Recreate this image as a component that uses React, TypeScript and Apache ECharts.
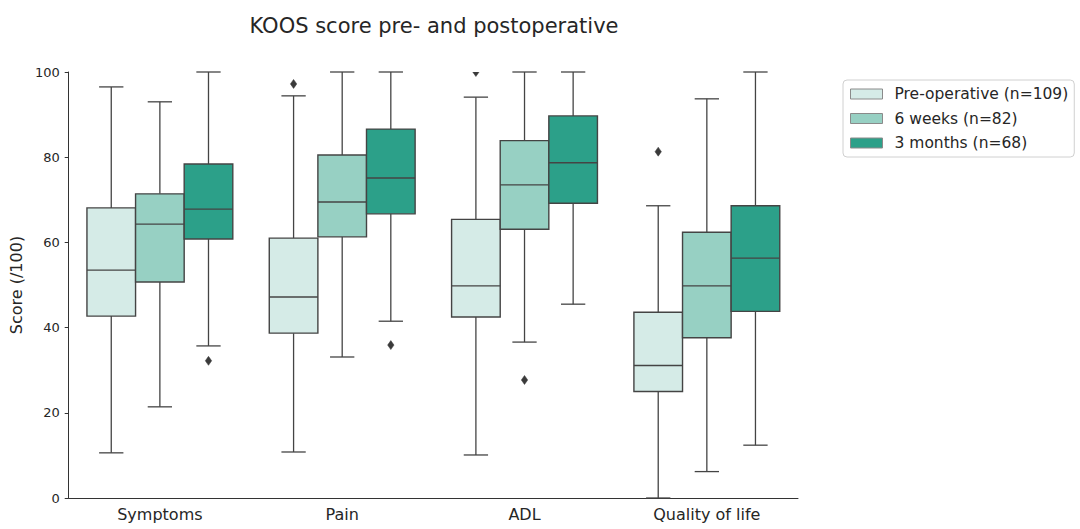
import React, { useEffect, useRef } from "react";
import * as echarts from "echarts";

const categories = ["Symptoms", "Pain", "ADL", "Quality of life"];
const groups = ["Pre-operative (n=109)", "6 weeks (n=82)", "3 months (n=68)"];
const colors = ["#d5ebe7", "#97d0c3", "#2ca089"];
const yTicks = [0, 20, 40, 60, 80, 100];

// [min, q1, median, q3, max] per category
const preOperative = [
  [10.6, 42.7, 53.5, 68.1, 96.5],
  [10.8, 38.7, 47.2, 61.0, 94.4],
  [10.1, 42.5, 49.8, 65.4, 94.1],
  [0, 25.0, 31.1, 43.6, 68.6],
];
const sixWeeks = [
  [21.4, 50.7, 64.3, 71.4, 93.0],
  [33.1, 61.3, 69.5, 80.5, 100],
  [36.6, 63.1, 73.5, 83.9, 100],
  [6.2, 37.6, 49.8, 62.4, 93.7],
];
const threeMonths = [
  [35.7, 60.8, 67.8, 78.4, 100],
  [41.5, 66.7, 75.1, 86.6, 100],
  [45.5, 69.2, 78.7, 89.7, 100],
  [12.4, 43.8, 56.3, 68.6, 100],
];
// [categoryIndex, groupIndex, value]
const outliers = [
  [0, 2, 32.2],
  [1, 0, 97.2],
  [1, 2, 35.9],
  [2, 0, 100],
  [2, 1, 27.7],
  [3, 0, 81.3],
];

const groupData = [preOperative, sixWeeks, threeMonths];
const EDGE = "#444444";
const FONT = "DejaVu Sans";

export default function App() {
  const ref = useRef<HTMLDivElement>(null);
  useEffect(() => {
    if (!ref.current) return;
    const chart = echarts.init(ref.current, undefined, { renderer: "svg" });

    const makeRender = (g: number) => (params: any, api: any) => {
      const ci = api.value(0);
      const mn = api.value(1), q1 = api.value(2), md = api.value(3), q3 = api.value(4), mx = api.value(5);
      const band = api.size([1, 0])[0];
      const w = (band * 0.8) / 3;
      const cx = api.coord([ci, md])[0] + (g - 1) * w;
      const y = (v: number) => api.coord([ci, v])[1];
      const ls = { stroke: EDGE, lineWidth: 1.3, fill: null };
      return {
        type: "group",
        children: [
          { type: "line", shape: { x1: cx, y1: y(q3), x2: cx, y2: y(mx) }, style: ls },
          { type: "line", shape: { x1: cx, y1: y(q1), x2: cx, y2: y(mn) }, style: ls },
          { type: "line", shape: { x1: cx - w / 4, y1: y(mx), x2: cx + w / 4, y2: y(mx) }, style: ls },
          { type: "line", shape: { x1: cx - w / 4, y1: y(mn), x2: cx + w / 4, y2: y(mn) }, style: ls },
          {
            type: "rect",
            shape: { x: cx - w / 2, y: y(q3), width: w, height: y(q1) - y(q3) },
            style: { fill: colors[g], stroke: EDGE, lineWidth: 1.4 },
          },
          { type: "line", shape: { x1: cx - w / 2, y1: y(md), x2: cx + w / 2, y2: y(md) }, style: { stroke: EDGE, lineWidth: 1.4 } },
        ],
      };
    };

    const boxSeries = groups.map((name, g) => ({
      name,
      type: "custom",
      itemStyle: { color: colors[g], borderColor: "#888", borderWidth: 1 },
      renderItem: makeRender(g),
      encode: { x: 0, y: [1, 2, 3, 4, 5] },
      data: groupData[g].map((d, ci) => [ci, ...d]),
      z: 2,
    }));

    const outlierSeries = {
      name: "outliers",
      type: "custom",
      clip: true,
      renderItem: (params: any, api: any) => {
        const ci = api.value(0);
        const g = api.value(1);
        const v = api.value(2);
        const band = api.size([1, 0])[0];
        const w = (band * 0.8) / 3;
        const p = api.coord([ci, v]);
        const cx = p[0] + (g - 1) * w;
        const cy = p[1];
        return {
          type: "polygon",
          shape: { points: [[cx, cy - 4.5], [cx + 3.2, cy], [cx, cy + 4.5], [cx - 3.2, cy]] },
          style: { fill: "#3a3a3a", stroke: "#3a3a3a", lineWidth: 0.5 },
        };
      },
      encode: { x: 0, y: 2 },
      data: outliers,
      z: 3,
    };

    chart.setOption({
      animation: false,
      backgroundColor: "#ffffff",
      title: {
        text: "KOOS score pre- and postoperative",
        left: 429,
        top: 10,
        textAlign: "center",
        textStyle: { fontFamily: FONT, fontSize: 21, fontWeight: "normal", color: "#262626" },
      },
      legend: {
        orient: "vertical",
        left: 843,
        top: 80,
        padding: [6, 6, 6, 7],
        itemGap: 8.5,
        itemWidth: 32,
        itemHeight: 10,
        borderColor: "#d0d0d0",
        borderWidth: 1,
        borderRadius: 4,
        selectedMode: false,
        textStyle: { fontFamily: FONT, fontSize: 15.5, color: "#262626", padding: [0, 0, 0, 7] },
        data: groups.map((name, g) => ({
          name,
          icon: "rect",
          itemStyle: { color: colors[g], borderColor: "#8a8a8a", borderWidth: 1 },
        })),
      },
      grid: { left: 68, top: 72, right: 282, bottom: 31, containLabel: false },
      xAxis: {
        type: "category",
        data: categories,
        axisLine: { lineStyle: { color: "#333", width: 1 } },
        axisTick: { alignWithLabel: true, length: 4, lineStyle: { color: "#333" } },
        axisLabel: { fontFamily: FONT, fontSize: 16, color: "#262626", margin: 8 },
        splitLine: { show: false },
      },
      yAxis: {
        type: "value",
        min: 0,
        max: 100,
        interval: 20,
        name: "Score (/100)",
        nameLocation: "middle",
        nameGap: 42,
        nameTextStyle: { fontFamily: FONT, fontSize: 16, color: "#262626" },
        axisLine: { show: true, lineStyle: { color: "#333", width: 1 } },
        axisTick: { show: true, length: 4, lineStyle: { color: "#333" } },
        axisLabel: {
          fontFamily: FONT,
          fontSize: 13,
          color: "#262626",
          margin: 9,
          formatter: (v: number) => (yTicks.includes(v) ? String(v) : ""),
        },
        splitLine: { show: false },
      },
      series: [...boxSeries, outlierSeries],
    });
    return () => chart.dispose();
  }, []);
  return <div ref={ref} style={{ position: "absolute", left: 0, top: 0, width: 1080, height: 529 }} />;
}
